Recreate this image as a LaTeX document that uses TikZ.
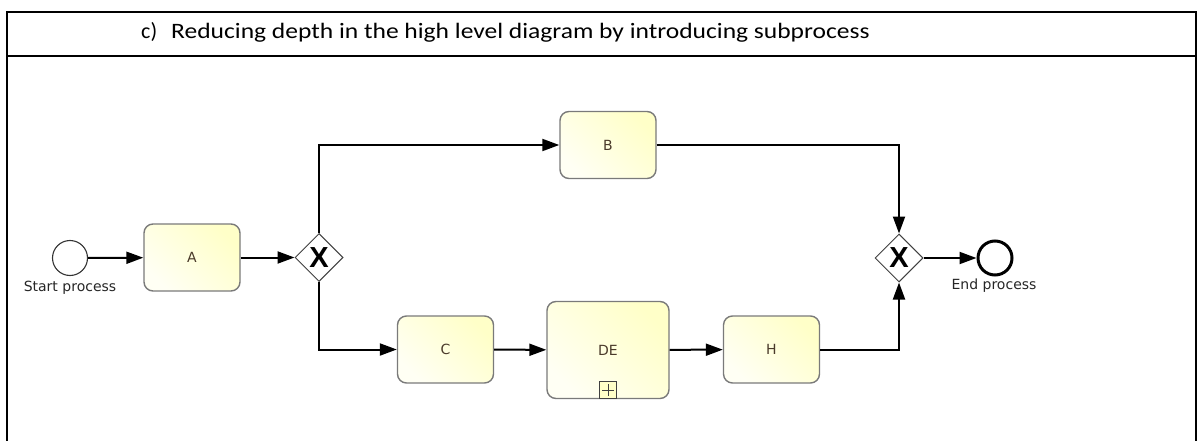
\documentclass[tikz,border=0pt]{standalone}
\usepackage{fontspec}
\usepackage{graphicx}
\setmainfont{Carlito}
\newfontfamily\labelfont{DejaVu Sans}
\newfontfamily\gatefont{Liberation Sans}
\usetikzlibrary{arrows.meta,shapes.geometric}
\definecolor{taskfillA}{HTML}{FFFFF4}
\definecolor{taskfillB}{HTML}{FFFFC8}
\definecolor{taskedge}{HTML}{7A7A7A}
\definecolor{labelcol}{HTML}{4A3A2A}
\tikzset{
  task/.style={rectangle, rounded corners=9pt, draw=taskedge, line width=1.4pt,
    left color=taskfillA, right color=taskfillB, shading angle=135,
    minimum width=96pt, minimum height=67pt, inner sep=0pt,
    font=\labelfont\fontsize{14}{16}\selectfont, text=labelcol},
  gateway/.style={diamond, draw=black!75, line width=1pt, fill=white,
    minimum width=48pt, minimum height=48pt, inner sep=0pt,
    font=\gatefont\bfseries\fontsize{29}{29}\selectfont},
  startev/.style={circle, draw=black!80, line width=1.1pt, fill=white,
    minimum size=35pt, inner sep=0pt},
  endev/.style={circle, draw=black, line width=3pt, fill=white,
    minimum size=34pt, inner sep=0pt},
  evlabel/.style={font=\labelfont\fontsize{14}{16}\selectfont, text=black!85},
  flow/.style={line width=2pt, -{Triangle[length=17pt,width=12pt]}},
  frameline/.style={line width=2.2pt, black},
  titletext/.style={anchor=base west, inner sep=0pt, font=\fontsize{22}{26}\selectfont},
}
\begin{document}
\begin{tikzpicture}[x=1pt, y=-1pt]
\useasboundingbox (0,0) rectangle (1201,441);
% table frame
\draw[frameline] (7,441) -- (7,12) -- (1196,12) -- (1196,441);
\draw[frameline] (7,56) -- (1196,56);
\node[titletext] (item) at (141,39) {c)};
\node[titletext] (title) at (171,39)
  {\scalebox{1.16}[1]{Reducing depth in the high level diagram by introducing subprocess}};

% events, tasks and gateways
\node[startev] (start) at (70,258) {};
\node[evlabel] (startlbl) at (70,288) {Start process};
\node[task] (A) at (192,257.5) {A};
\node[gateway] (g1) at (319,257.5) {X};
\node[task] (B) at (608,145) {B};
\node[task] (C) at (445.5,349.5) {C};
\node[task, minimum width=122pt, minimum height=97pt] (DE) at (608,350) {DE};
\node[task] (H) at (771.5,349.5) {H};
\node[gateway] (g2) at (899,258) {X};
\node[endev] (end) at (995,258) {};
\node[evlabel] (endlbl) at (994,286) {End process};

% collapsed subprocess marker
\node[rectangle, draw=black!75, line width=1pt, fill=taskfillB, minimum size=17pt,
  inner sep=0pt, anchor=south] (plus) at (DE.south) {};
\draw[black!75, line width=1pt] ([yshift=3pt]plus.south) -- ([yshift=-3pt]plus.north);
\draw[black!75, line width=1pt] ([xshift=3pt]plus.west) -- ([xshift=-3pt]plus.east);

% sequence flows
\draw[flow] (start) -- (A);
\draw[flow] (A) -- (g1.west);
\draw[flow] (g1.north) |- (B.west);
\draw[flow] (g1.south) |- (C.west);
\draw[flow] (C) -- (DE);
\draw[flow] (DE) -- (H);
\draw[flow] (B.east) -| (g2.north);
\draw[flow] (H.east) -| (g2.south);
\draw[flow] (g2.east) -- (end);
\end{tikzpicture}
\end{document}
